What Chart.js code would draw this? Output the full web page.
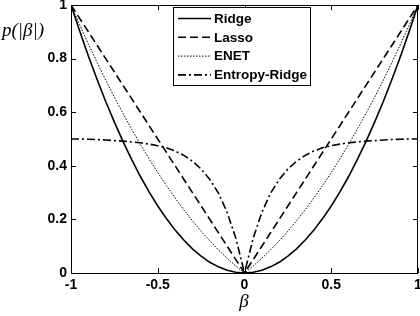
<!DOCTYPE html>
<html><head><meta charset="utf-8">
<script src="https://cdn.jsdelivr.net/npm/chart.js@4.4.0/dist/chart.umd.min.js"></script>
<style>html,body{margin:0;padding:0;background:#fff}canvas{display:block}</style>
</head><body>
<canvas id="c" width="420" height="316"></canvas>
<script>
const betaValues = [-1,-0.95,-0.9,-0.85,-0.8,-0.75,-0.7,-0.65,-0.6,-0.55,-0.5,-0.45,-0.4,-0.35,-0.3,-0.25,-0.2,-0.15,-0.1,-0.05,0,0.05,0.1,0.15,0.2,0.25,0.3,0.35,0.4,0.45,0.5,0.55,0.6,0.65,0.7,0.75,0.8,0.85,0.9,0.95,1];
const ridge = [1,0.903,0.81,0.723,0.64,0.563,0.49,0.423,0.36,0.303,0.25,0.203,0.16,0.123,0.09,0.063,0.04,0.023,0.01,0.003,0,0.003,0.01,0.023,0.04,0.063,0.09,0.123,0.16,0.203,0.25,0.303,0.36,0.423,0.49,0.563,0.64,0.723,0.81,0.903,1];
const lasso = [1,0.95,0.9,0.85,0.8,0.75,0.7,0.65,0.6,0.55,0.5,0.45,0.4,0.35,0.3,0.25,0.2,0.15,0.1,0.05,0,0.05,0.1,0.15,0.2,0.25,0.3,0.35,0.4,0.45,0.5,0.55,0.6,0.65,0.7,0.75,0.8,0.85,0.9,0.95,1];
const enet = [1,0.926,0.855,0.786,0.72,0.656,0.595,0.536,0.48,0.426,0.375,0.326,0.28,0.236,0.195,0.156,0.12,0.086,0.055,0.026,0,0.026,0.055,0.086,0.12,0.156,0.195,0.236,0.28,0.326,0.375,0.426,0.48,0.536,0.595,0.656,0.72,0.786,0.855,0.926,1];
const entropyRidge = [0.5,0.5,0.499,0.498,0.496,0.494,0.492,0.489,0.486,0.481,0.475,0.467,0.455,0.439,0.417,0.388,0.349,0.298,0.226,0.13,0,0.13,0.226,0.298,0.349,0.388,0.417,0.439,0.455,0.467,0.475,0.481,0.486,0.489,0.492,0.494,0.496,0.498,0.499,0.5,0.5];
const seriesNames = ['Ridge','Lasso','ENET','Entropy-Ridge'];
const xTicks = [-1,-0.5,0,0.5,1];
const xTickLabels = ['-1','-0.5','0','0.5','1'];
const yTicks = [0,0.2,0.4,0.6,0.8,1];
const yTickLabels = ['0','0.2','0.4','0.6','0.8','1'];

const pts = arr => arr.map((v,i)=>({x:betaValues[i],y:v}));
const styles = [
  {borderWidth:1.6,borderDash:[]},
  {borderWidth:1.6,borderDash:[8,4]},
  {borderWidth:1,borderDash:[1.5,1.5]},
  {borderWidth:1.6,borderDash:[8,3,2,3]}
];
const allData = [ridge,lasso,enet,entropyRidge];
const tickFont = {family:'Liberation Sans, Arial, sans-serif',size:14,weight:'bold'};

const framePlugin = {
  id:'frame',
  afterDatasetsDraw(chart){
    const {ctx,chartArea:a,scales:{x,y}} = chart;
    ctx.save();
    ctx.strokeStyle='#000';ctx.lineWidth=1;ctx.setLineDash([]);
    ctx.strokeRect(Math.round(a.left)+0.5,Math.round(a.top)+0.5,Math.round(a.right-a.left)-1,Math.round(a.bottom-a.top));
    ctx.beginPath();
    xTicks.forEach(t=>{const px=Math.round(x.getPixelForValue(t))+0.5;
      ctx.moveTo(px,a.bottom);ctx.lineTo(px,a.bottom-5);
      ctx.moveTo(px,a.top);ctx.lineTo(px,a.top+5);});
    yTicks.forEach(t=>{const py=Math.round(y.getPixelForValue(t))+0.5;
      ctx.moveTo(a.left,py);ctx.lineTo(a.left+5,py);
      ctx.moveTo(a.right,py);ctx.lineTo(a.right-5,py);});
    ctx.stroke();
    // legend
    const lx=173.5, ly=7.5, lw=137, lh=78;
    ctx.fillStyle='#fff';ctx.fillRect(lx,ly,lw,lh);
    ctx.strokeRect(lx,ly,lw,lh);
    ctx.font='bold 13.5px Liberation Sans, Arial, sans-serif';
    ctx.textBaseline='middle';ctx.fillStyle='#000';
    chart.data.datasets.forEach((ds,i)=>{
      const yy=18.5+i*18.8;
      ctx.lineWidth=ds.borderWidth;ctx.setLineDash(ds.borderDash);
      ctx.beginPath();ctx.moveTo(178,yy);ctx.lineTo(211,yy);ctx.stroke();
      ctx.setLineDash([]);
      ctx.fillText(ds.label,214,yy+0.5);
    });
    // axis titles
    ctx.font='italic 19px Liberation Serif, Times New Roman, serif';
    ctx.textBaseline='alphabetic';ctx.textAlign='left';
    ctx.fillText('p(|β|)',2,36);
    ctx.textAlign='center';
    ctx.fillText('β',244,307);
    ctx.restore();
  }
};

new Chart(document.getElementById('c'),{
  type:'line',
  data:{datasets:seriesNames.map((n,i)=>({label:n,data:pts(allData[i]),borderColor:'#000',
    borderWidth:styles[i].borderWidth,borderDash:styles[i].borderDash,pointRadius:0,tension:0,fill:false}))},
  options:{
    responsive:false,animation:false,
    layout:{padding:{top:5,right:2,left:0,bottom:0}},
    plugins:{legend:{display:false},tooltip:{enabled:false}},
    scales:{
      x:{type:'linear',min:-1,max:1,
        ticks:{color:'#000',font:tickFont,padding:4,maxRotation:0,autoSkip:false,
          callback:(v,i)=>xTickLabels[i]},
        grid:{display:false,drawTicks:false},border:{display:false},
        afterFit(s){s.height=43;s.paddingLeft=0;s.paddingRight=0;},
        afterBuildTicks(s){s.ticks=xTicks.map(v=>({value:v}));}},
      y:{type:'linear',min:0,max:1,
        ticks:{color:'#000',font:tickFont,padding:4,autoSkip:false,
          callback:(v,i)=>yTickLabels[i]},
        grid:{display:false,drawTicks:false},border:{display:false},
        afterFit(s){s.width=71;s.paddingTop=0;s.paddingBottom=0;},
        afterBuildTicks(s){s.ticks=yTicks.map(v=>({value:v}));}}
    }
  },
  plugins:[framePlugin]
});
</script>
</body></html>
